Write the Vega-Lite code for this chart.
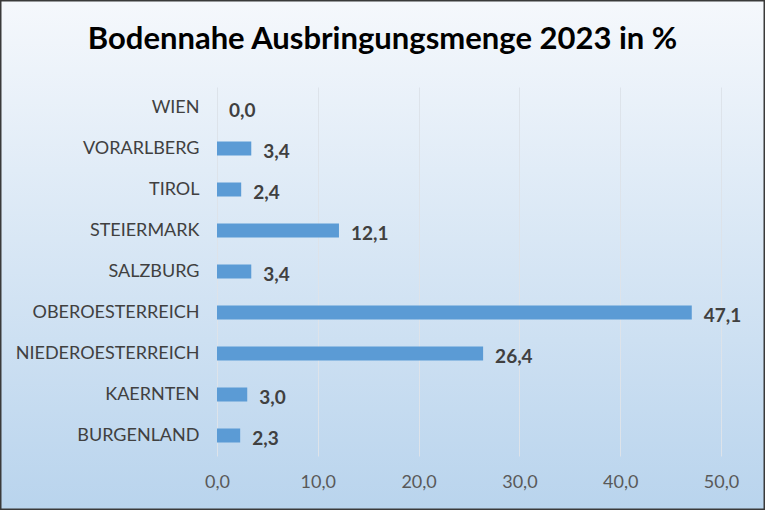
{
  "$schema": "https://vega.github.io/schema/vega-lite/v6.json",
  "width": 765,
  "height": 510,
  "autosize": {"type": "none"},
  "padding": 0,
  "background": "#dfeaf5",
  "config": {
    "locale": {"number": {"decimal": ",", "thousands": ".", "grouping": [3], "currency": ["", " €"]}},
    "view": {
      "fill": {"gradient": "linear", "x1": 0, "y1": 0, "x2": 0, "y2": 1, "stops": [{"offset": 0, "color": "#f5f8fc"}, {"offset": 1, "color": "#b9d4ed"}]},
      "stroke": "#3a3a3a",
      "strokeWidth": 3
    },
    "font": "Lato"
  },
  "title": {
    "text": "Bodennahe Ausbringungsmenge 2023 in %",
    "font": "Lato",
    "fontSize": 31,
    "fontWeight": "bold",
    "color": "#000000",
    "frame": "group",
    "anchor": "middle",
    "baseline": "alphabetic",
    "offset": -80
  },
  "data": {
    "values": [
      {"land": "WIEN", "wert": 0.0},
      {"land": "VORARLBERG", "wert": 3.4},
      {"land": "TIROL", "wert": 2.4},
      {"land": "STEIERMARK", "wert": 12.1},
      {"land": "SALZBURG", "wert": 3.4},
      {"land": "OBEROESTERREICH", "wert": 47.1},
      {"land": "NIEDEROESTERREICH", "wert": 26.4},
      {"land": "KAERNTEN", "wert": 3.0},
      {"land": "BURGENLAND", "wert": 2.3}
    ]
  },
  "encoding": {
    "y": {
      "field": "land",
      "type": "nominal",
      "sort": null,
      "scale": {"range": [87, 456], "paddingInner": 0, "paddingOuter": 0},
      "axis": {
        "orient": "left",
        "offset": -199,
        "domain": false,
        "ticks": false,
        "tickSize": 0,
        "labelPadding": 0,
        "labelLimit": 400,
        "title": null,
        "grid": false,
        "labelFont": "Lato",
        "labelFontSize": 18,
        "labelColor": "#404040"
      }
    },
    "x": {
      "field": "wert",
      "type": "quantitative",
      "scale": {"domain": [0, 50], "range": [217, 721], "nice": false, "zero": true},
      "axis": {
        "orient": "top",
        "offset": -487,
        "domain": false,
        "ticks": false,
        "tickSize": 0,
        "labelPadding": 0,
        "labelBaseline": "alphabetic",
        "values": [0, 10, 20, 30, 40, 50],
        "format": ".1f",
        "grid": true,
        "gridColor": "#dde3ea",
        "labelFont": "Lato",
        "labelFontSize": 18,
        "labelColor": "#595959",
        "labelFlush": false,
        "title": null
      }
    }
  },
  "layer": [
    {
      "mark": {"type": "bar", "size": 14, "color": "#5b9bd5"}
    },
    {
      "mark": {"type": "text", "align": "left", "baseline": "middle", "dx": 12, "dy": 3, "font": "Lato", "fontSize": 19, "fontWeight": "bold", "color": "#404040"},
      "encoding": {
        "text": {"field": "wert", "type": "quantitative", "format": ".1f"}
      }
    }
  ]
}
